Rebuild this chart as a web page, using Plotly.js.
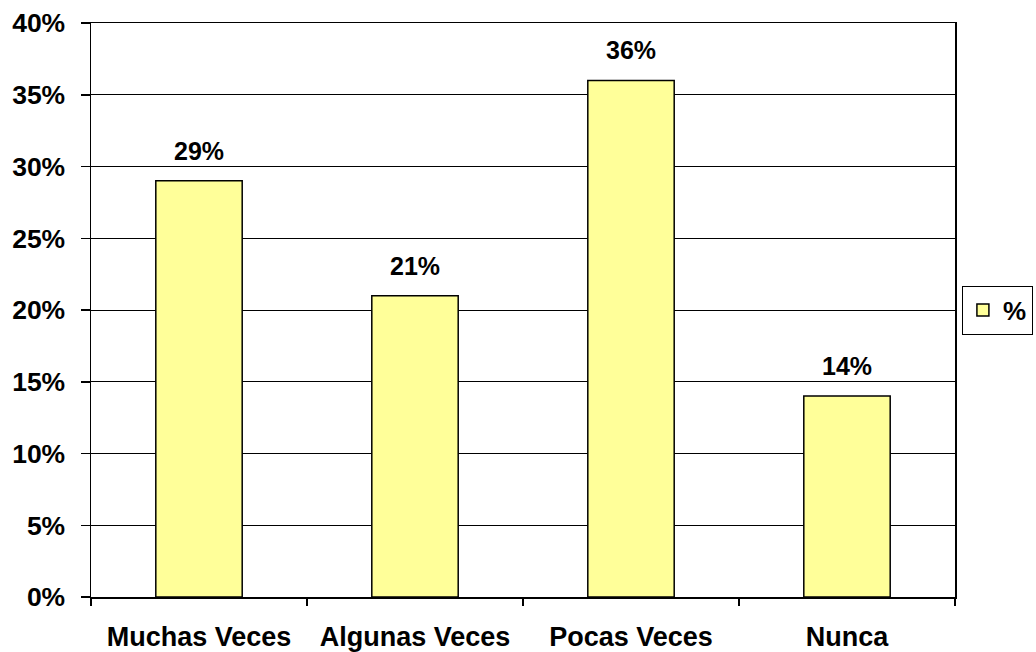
<!DOCTYPE html>
<html>
<head>
<meta charset="utf-8">
<script src="https://cdn.plot.ly/plotly-3.0.1.min.js"></script>
<style>html,body{margin:0;padding:0;background:#fff;}#chart{width:1036px;height:652px;}</style>
</head>
<body>
<div id="chart"></div>
<script>
const categories = ["Muchas Veces", "Algunas Veces", "Pocas Veces", "Nunca"];
const values = [29, 21, 36, 14];
const seriesName = "%";
const yTickValues = [0, 5, 10, 15, 20, 25, 30, 35, 40];

const FONT = "Liberation Sans, Arial, sans-serif";

const trace = {
  type: "bar",
  x: categories,
  y: values,
  name: seriesName,
  width: 0.4,
  marker: {color: "#FFFF99", line: {color: "#000000", width: 1.5}},
  hoverinfo: "none",
  showlegend: true
};

const annotations = categories.map((c, i) => ({
  x: c, y: values[i], xref: "x", yref: "y",
  text: "<b>" + values[i] + "%</b>",
  showarrow: false, yanchor: "middle", yshift: 30,
  font: {family: FONT, size: 25, color: "#000"}
}));

const layout = {
  width: 1036, height: 652,
  margin: {l: 91, r: 81, t: 23, b: 55, autoexpand: false},
  paper_bgcolor: "#fff", plot_bgcolor: "#fff",
  font: {family: FONT, color: "#000"},
  xaxis: {
    type: "category",
    tickson: "boundaries",
    ticks: "outside", ticklen: 7, tickwidth: 1.5, tickcolor: "#000",
    showline: true, linecolor: "#000", linewidth: 1.5, mirror: true,
    showgrid: false,
    tickfont: {family: FONT, size: 27, color: "#000", weight: "bold"},
    ticklabelstandoff: 15
  },
  yaxis: {
    range: [0, 40],
    tickvals: yTickValues,
    ticktext: yTickValues.map(v => v + "%"),
    ticks: "outside", ticklen: 9, tickwidth: 1.5, tickcolor: "#000",
    showline: true, linecolor: "#000", linewidth: 1.5, mirror: true,
    showgrid: true, gridcolor: "#000", gridwidth: 1,
    zeroline: false,
    tickfont: {family: FONT, size: 26.5, color: "#000", weight: "bold"},
    ticklabelstandoff: 10
  },
  legend: {
    x: 1.008, xanchor: "left", y: 0.5, yanchor: "middle",
    bordercolor: "#000", borderwidth: 1, bgcolor: "#fff",
    itemwidth: 30,
    font: {family: FONT, size: 26, color: "#000", weight: "bold"}
  },
  annotations: annotations,
  showlegend: true
};

Plotly.newPlot("chart", [trace], layout, {displayModeBar: false, staticPlot: true});
</script>
</body>
</html>
